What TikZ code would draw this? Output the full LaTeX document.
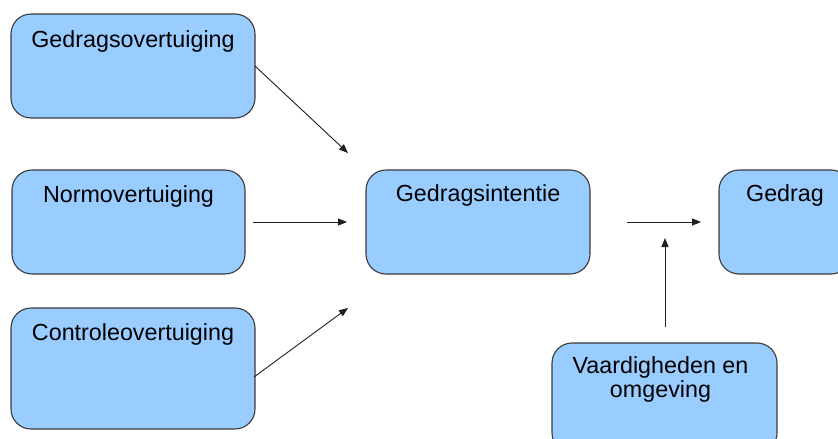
\documentclass[tikz,border=0pt]{standalone}
\usepackage{fontspec}
\setmainfont{Liberation Sans}
\usetikzlibrary{arrows.meta}
\definecolor{boxfill}{HTML}{99CCFF}
\definecolor{boxline}{HTML}{3A3A3A}
\definecolor{arrowcol}{HTML}{1E1E1E}
\tikzset{
  box/.style={draw=boxline, line width=1.1pt, fill=boxfill, rounded corners=20pt,
    inner sep=0pt, outer sep=0pt},
  txt/.style={anchor=base, inner sep=0pt, font=\fontsize{23.3}{23}\selectfont, align=center},
  conn/.style={draw=arrowcol, line width=0.9pt, -{Triangle[length=9pt,width=7pt]}}
}
\begin{document}
\begin{tikzpicture}[x=1pt,y=-1pt]
\useasboundingbox (0,0) rectangle (838,439);
\begin{scope}
\clip (0,0) rectangle (838,439);
% boxes
\node[box, minimum width=244pt, minimum height=104pt] (go) at (133,66) {};
\node[box, minimum width=233pt, minimum height=104pt] (no) at (128.5,222) {};
\node[box, minimum width=244pt, minimum height=121pt] (co) at (133,368.5) {};
\node[box, minimum width=224pt, minimum height=104pt] (gi) at (478,222) {};
\node[box, minimum width=132pt, minimum height=104pt] (ge) at (785,222) {};
\node[box, minimum width=225pt, minimum height=110pt] (va) at (664.5,398) {};
\end{scope}
% texts
\node[txt] (got) at ([yshift=-33pt]go.north) {Gedragsovertuiging};
\node[txt] (not) at ([yshift=-32pt]no.north) {Normovertuiging};
\node[txt] (cot) at ([yshift=-32pt]co.north) {Controleovertuiging};
\node[txt] (git) at ([yshift=-31pt]gi.north) {Gedragsintentie};
\node[txt] (get) at ([yshift=-31pt]ge.north) {Gedrag};
\node[txt, anchor=north] (vat) at ([xshift=-4pt,yshift=-13pt]va.north) {Vaardigheden en\\[1pt]omgeving};
% connector end points
\coordinate (e1) at (348,153);
\coordinate (s2) at (253,222);
\coordinate (e2) at (347,222);
\coordinate (s3) at (254,377);
\coordinate (e3) at (348,308);
\coordinate (s4) at (627,222);
\coordinate (e4) at (701,222);
\coordinate (s5) at (665,327);
\coordinate (e5) at (665,238);
% connectors
\draw[conn] (go.east) -- (e1);
\draw[conn] (s2) -- (e2);
\draw[conn] (s3) -- (e3);
\draw[conn] (s4) -- (e4);
\draw[conn] (s5) -- (e5);
\end{tikzpicture}
\end{document}
